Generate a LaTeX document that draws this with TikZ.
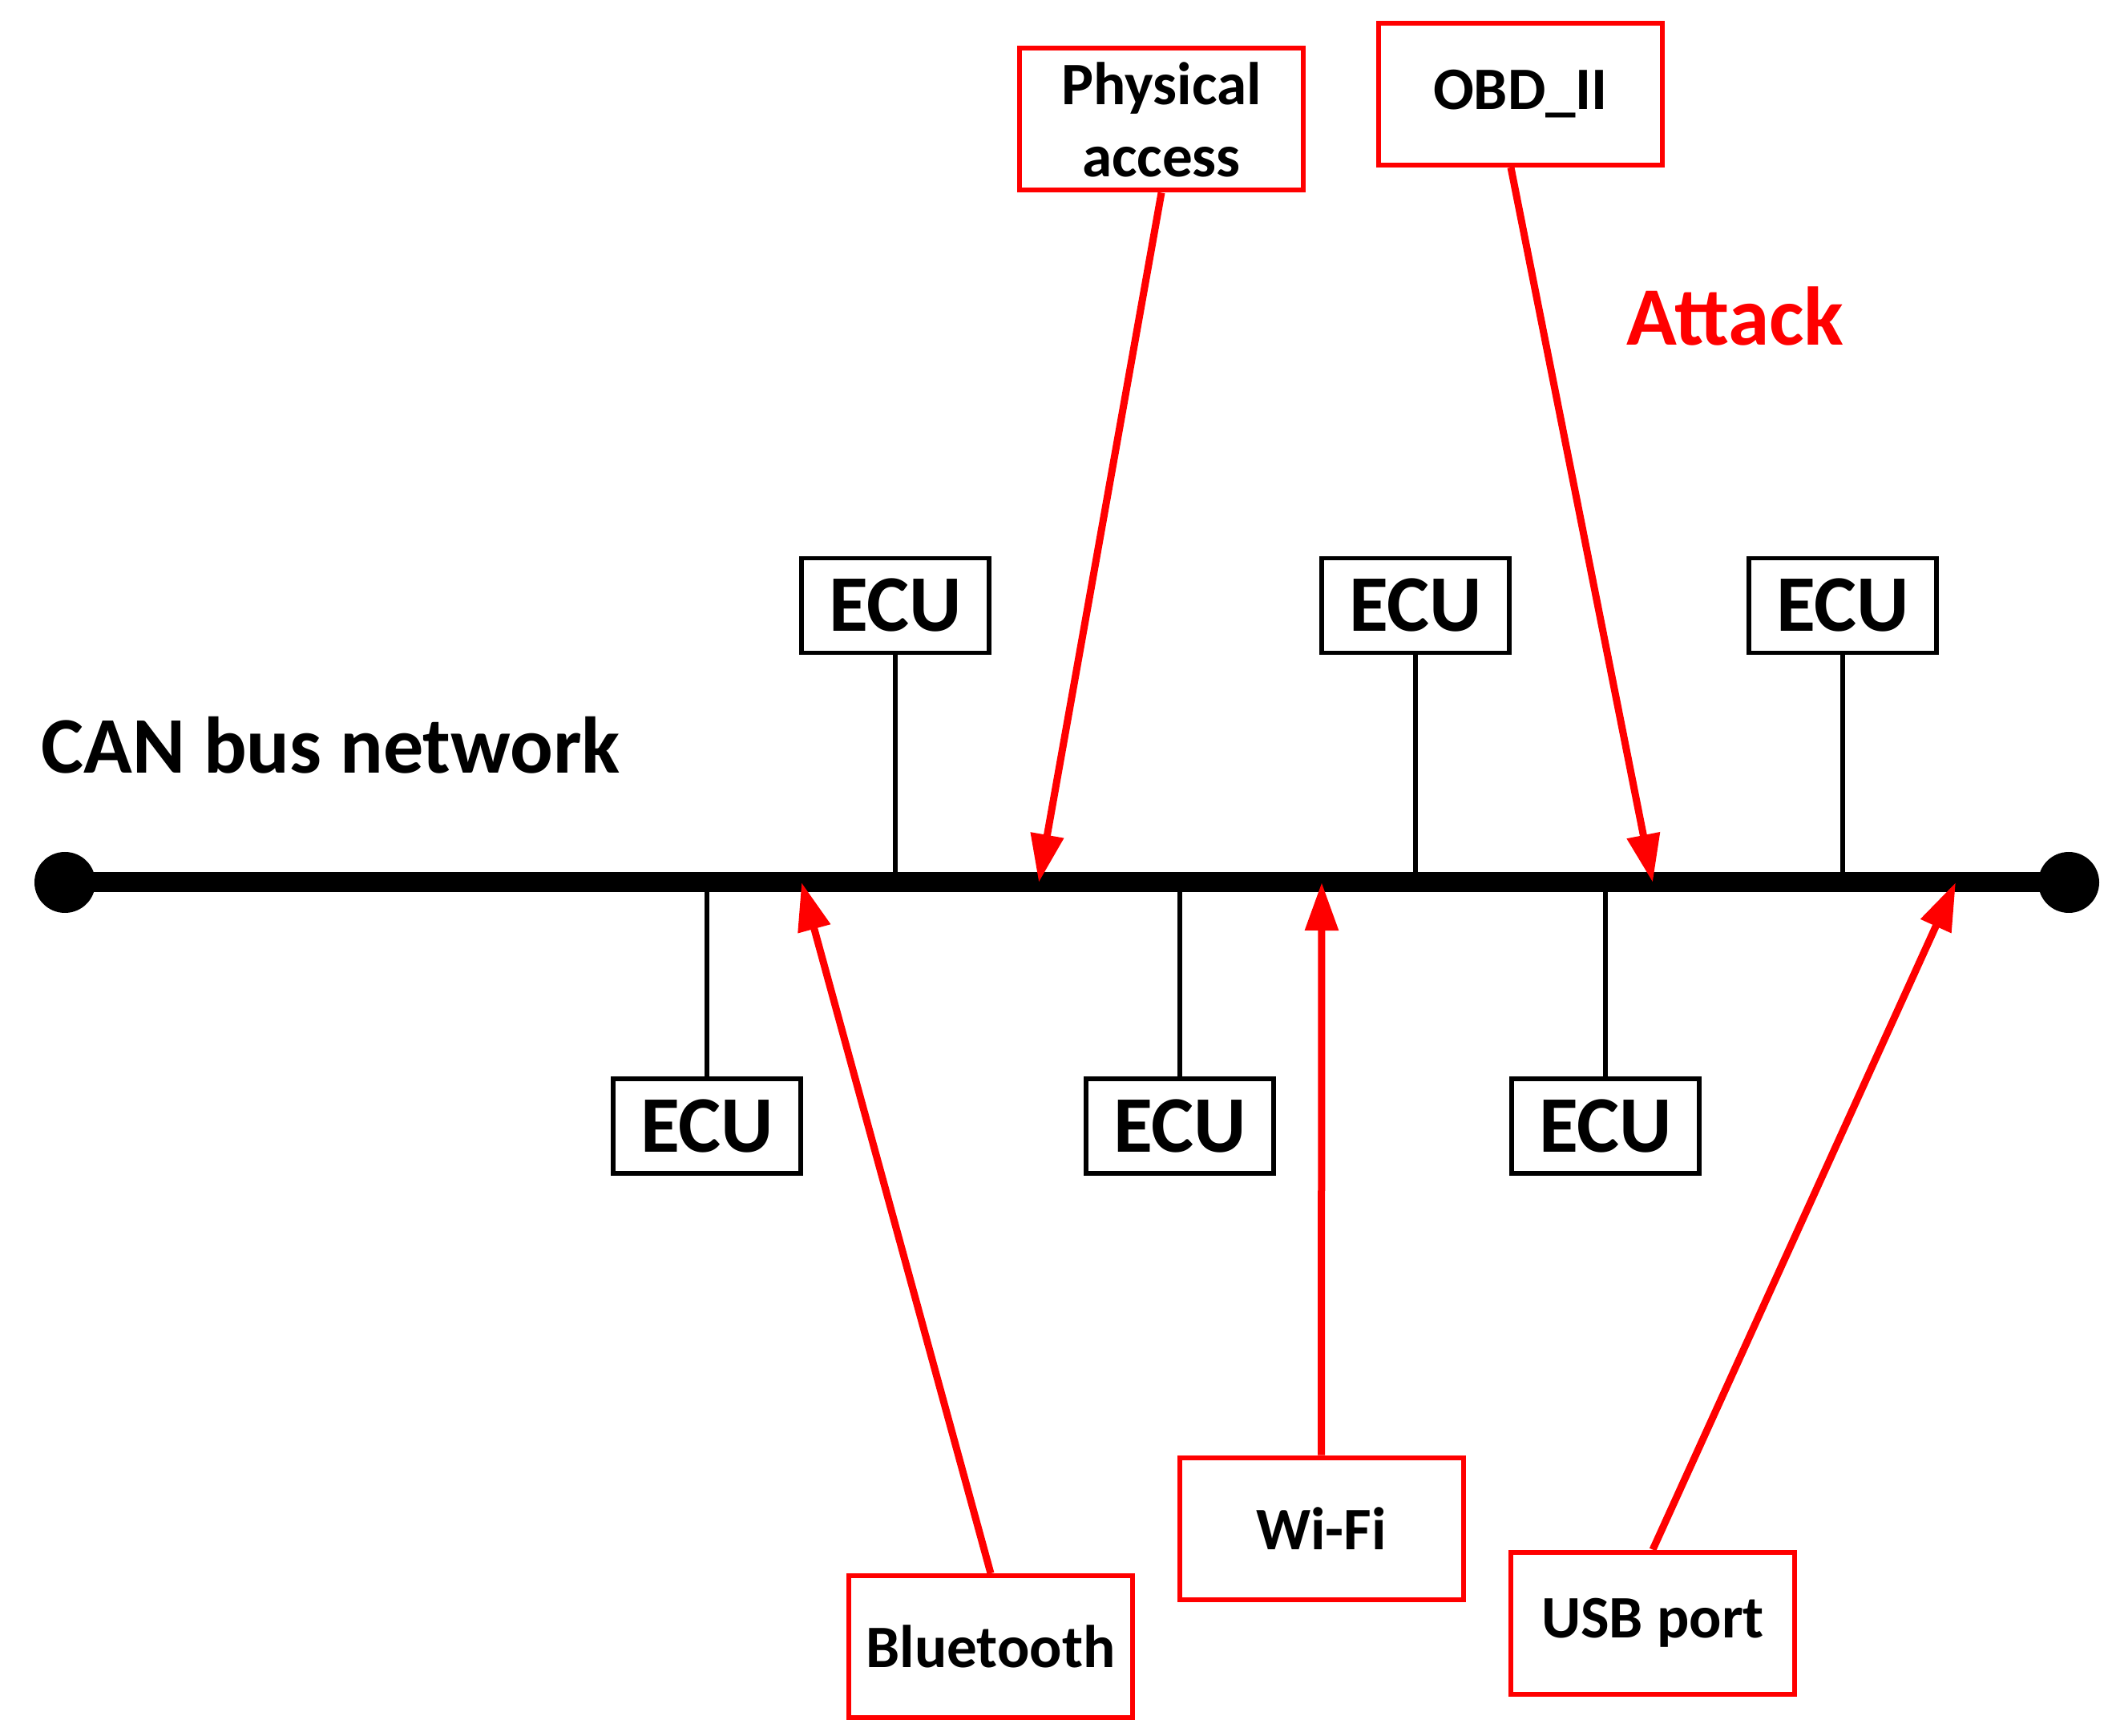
\documentclass[tikz,border=0pt]{standalone}
\usepackage{fontspec}
\setmainfont{Carlito}
\usetikzlibrary{arrows.meta,positioning}
\newcommand{\ecufont}{\fontsize{28.5}{34}\selectfont\bfseries}
\newcommand{\attackfont}{\fontsize{29.5}{35}\selectfont\bfseries}
\newcommand{\portfont}{\fontsize{21.4}{25.6}\selectfont\bfseries}
\begin{document}
\begin{tikzpicture}[ecu/.style={draw, line width=0.55mm, minimum width=2.34cm, minimum height=1.18cm, inner sep=0pt, font=\ecufont},
port/.style={draw=red, line width=0.6mm, minimum width=3.54cm, minimum height=1.77cm, inner sep=0pt, align=center, font=\portfont},
hit/.style={red, line width=0.9mm, -{Triangle[length=6mm,width=4mm]}}]
\useasboundingbox (0,0) rectangle (26.35,-21.66);
\coordinate (busL) at (0.81,-11.01);
\coordinate (busR) at (25.81,-11.01);
% ECUs on both sides of the bus
\node[ecu] (ecuA) at (11.17,-7.555) {ECU};
\node[ecu] (ecuB) at (17.66,-7.555) {ECU};
\node[ecu] (ecuC) at (22.99,-7.555) {ECU};
\node[ecu] (ecuD) at (8.82,-14.05) {ECU};
\node[ecu] (ecuE) at (14.72,-14.05) {ECU};
\node[ecu] (ecuF) at (20.03,-14.05) {ECU};
\foreach \e in {ecuA,ecuB,ecuC,ecuD,ecuE,ecuF} \draw[line width=0.55mm] (\e) -- (\e |- busL);
\draw[line width=2.5mm] (busL) -- (busR);
\fill (busL) circle (0.38) (busR) circle (0.38);
\node[font=\ecufont, inner sep=0pt, anchor=base west] (canlabel) at (0.51,-9.65) {CAN bus network};
\node[font=\attackfont, inner sep=0pt, text=red, anchor=base] (attacklabel) at (21.65,-4.31) {Attack};
% attack surfaces
\node[port] (phys) at (14.49,-1.49) {Physical\\access};
\node[port] (obd) at (18.97,-1.175) {OBD\_II};
\node[port] (blue) at (12.36,-20.545) {Bluetooth};
\node[port] (wifi) at (16.485,-19.07) {Wi-Fi};
\node[port] (usb) at (20.62,-20.25) {USB port};
\coordinate (hitPhys) at (12.96,-11.01);
\coordinate (hitObd) at (20.62,-11.01);
\coordinate (hitBlue) at (10.0,-11.01);
\coordinate (hitWifi) at (16.49,-11.01);
\coordinate (hitUsb) at (24.4,-11.01);
\draw[hit] (phys.south) -- (hitPhys);
\draw[hit] ([xshift=-1.2mm]obd.south) -- (hitObd);
\draw[hit] (blue.north) -- (hitBlue);
\draw[hit] (wifi.north) -- (hitWifi);
\draw[hit] (usb.north) -- (hitUsb);
\end{tikzpicture}
\end{document}
